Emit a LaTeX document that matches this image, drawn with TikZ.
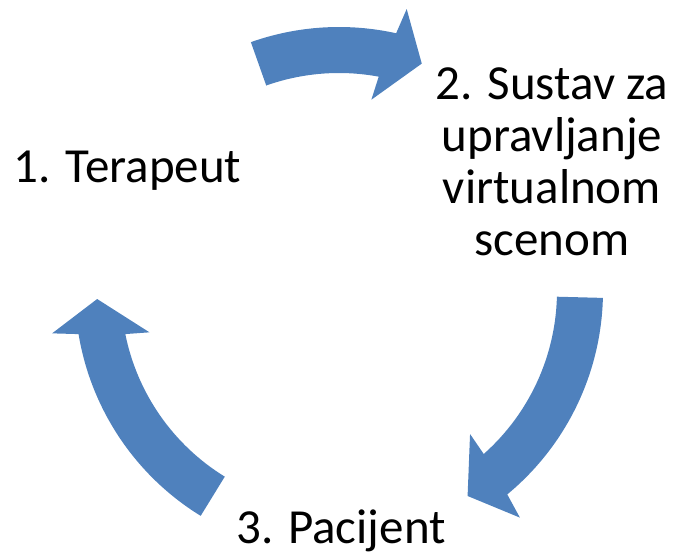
\documentclass[tikz,border=0pt]{standalone}
\usepackage{fontspec}
\setmainfont{Carlito}
\definecolor{cycleblue}{HTML}{4F81BD}
\tikzset{
  arrowfill/.style={fill=cycleblue, draw=none},
  steplabel/.style={inner sep=0pt, font=\fontsize{49}{52}\selectfont, align=center}
}
% Curved arrow around centre O, running clockwise from angle #1 (tail) to #2 (tip)
\newcommand\cyclearrow[2]{%
  \fill[arrowfill]
    ([shift={(O)}]#1:264pt) arc[start angle=#1, end angle=#2+7.5, radius=264pt]
    -- ([shift={(O)}]#2+6.5:290pt)
    -- ([shift={(O)}]#2:242pt)
    -- ([shift={(O)}]#2+10.4:194pt)
    -- ([shift={(O)}]#2+9.5:218pt)
    arc[start angle=#2+9.5, end angle=#1, radius=218pt]
    -- cycle;}
\begin{document}
\begin{tikzpicture}[x=1pt,y=1pt]
  \useasboundingbox (0,0) rectangle (673,558);
  \coordinate (O) at (339,267);
  % arrows of the cycle
  \cyclearrow{109.5}{70}
  \cyclearrow{-1.5}{-57.9}
  \cyclearrow{238.4}{181.9}
  % step labels (multi-line label is placed by the baseline of its last line)
  \node[steplabel, anchor=base] (terapeut) at (127.5,375) {1. Terapeut};
  \node[steplabel, anchor=base] (sustav) at (552,302) {2. Sustav za\\upravljanje\\virtualnom\\scenom};
  \node[steplabel, anchor=base] (pacijent) at (341,15) {3. Pacijent};
\end{tikzpicture}
\end{document}
